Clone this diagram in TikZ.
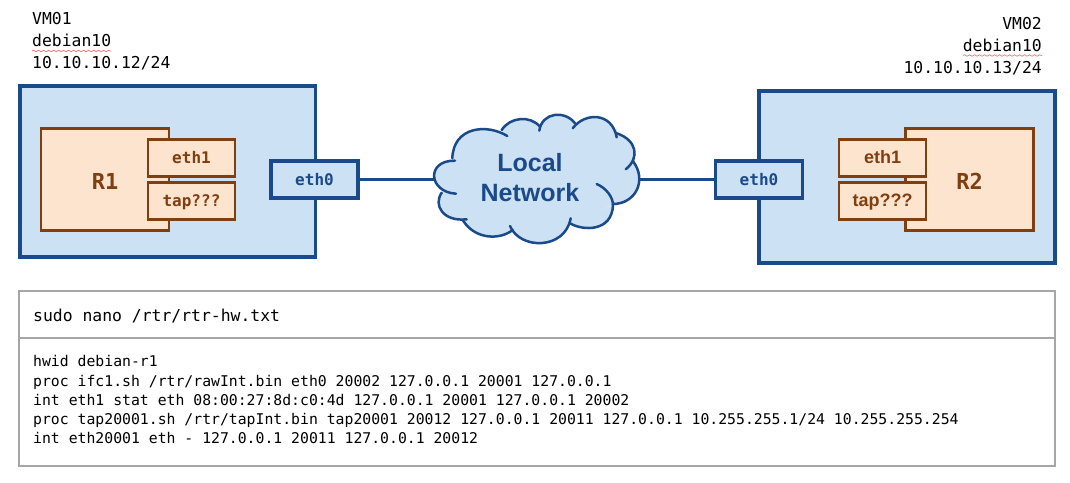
\documentclass[tikz,border=0pt]{standalone}
\usepackage{fontspec}
\setmonofont{DejaVu Sans Mono}
\setsansfont{Liberation Sans}
\usetikzlibrary{decorations.pathmorphing}

\definecolor{vmblue}{HTML}{1A4A8A}
\definecolor{vmfill}{HTML}{CCE1F3}
\definecolor{rtrbrown}{HTML}{7F3F10}
\definecolor{rtrfill}{HTML}{FDE4CF}
\definecolor{boxgrey}{HTML}{A6A6A6}

\tikzstyle{vmbox}=[rectangle,draw=vmblue,fill=vmfill,line width=3.8pt,outer sep=0pt,inner sep=0pt]
\tikzstyle{ifcbox}=[vmbox,minimum width=87pt,minimum height=37pt,text=vmblue,text height=14pt,text depth=2pt,font=\ttfamily\bfseries\fontsize{16}{19}\selectfont]
\tikzstyle{rtrbox}=[rectangle,draw=rtrbrown,fill=rtrfill,line width=2.5pt,outer sep=0pt,inner sep=0pt,text=rtrbrown,minimum width=128pt,minimum height=102pt,text height=20pt,text depth=0pt,font=\ttfamily\bfseries\fontsize{22}{26}\selectfont]
\tikzstyle{portbox}=[rtrbox,minimum width=87pt,minimum height=37pt,text height=14pt,text depth=3pt,font=\ttfamily\bfseries\fontsize{16}{19}\selectfont]
\tikzstyle{portsans}=[portbox,font=\sffamily\bfseries\fontsize{18}{21}\selectfont]
\tikzstyle{vmtext}=[inner sep=0pt,font=\ttfamily\fontsize{16.4}{21.6}\selectfont]
\tikzstyle{squiggle}=[draw=red!70!white,line width=0.5pt,decorate,decoration={snake,amplitude=0.8pt,segment length=5pt}]
\tikzstyle{listbox}=[rectangle,draw=boxgrey,line width=1.3pt,outer sep=0pt,inner sep=0pt,minimum width=1036pt]
\tikzstyle{link}=[draw=vmblue,line width=3pt]
\tikzstyle{lobe}=[draw=vmblue,line width=2.5pt,line cap=round]

\def\cloudarcs{
	{(507.3,136) .. controls (486.7,123.3) and (453.3,126.7) .. (452.3,158.3)},
	{(455,160.7) .. controls (426,160) and (428,192) .. (456,193.7)},
	{(441.7,192.7) .. controls (433,205) and (443,222) .. (466.7,219.3)},
	{(462.7,220) .. controls (475,240) and (500,240) .. (512.7,230)},
	{(510,226) .. controls (520,250) and (565,250) .. (570.7,218.3)},
	{(570,223.3) .. controls (583,231) and (612,232) .. (613,205)},
	{(613,205) .. controls (613,197) and (606,188) .. (596.7,184)},
	{(612.7,204) .. controls (636,204) and (647,180) .. (633.3,161.7)},
	{(625.7,169.3) .. controls (640,158) and (637,140) .. (616.7,133.3)},
	{(616.7,137.3) .. controls (612,112) and (585,112) .. (572.7,128.3)},
	{(575,123.3) .. controls (565,110) and (542,112) .. (539.3,130.7)},
	{(540,126.7) .. controls (530,115) and (510,117) .. (501.7,130)}}

\begin{document}
\begin{tikzpicture}[x=1pt,y=-1pt]
	\useasboundingbox (0,0) rectangle (1070,482);
	
	\node[vmbox,minimum width=295.5pt,minimum height=171pt] (vm1) at (167.75,171.8) {};
	\node[vmbox,minimum width=296pt,minimum height=172pt] (vm2) at (907,177) {};
	
	\node[rtrbox] (r1) at (105,179.5) {R1};
	\node[portbox] (r1eth1) at (191.5,158) {eth1};
	\node[portbox] (r1tap) at (191.5,201) {tap???};
	\node[ifcbox] (r1eth0) at (314.5,179.5) {eth0};
	
	\node[rtrbox] (r2) at (969.5,179.5) {R2};
	\node[portsans] (r2eth1) at (882.5,158) {eth1};
	\node[portsans] (r2tap) at (882.5,201) {tap???};
	\node[ifcbox] (r2eth0) at (759,179.5) {eth0};
	
	\node[minimum width=205pt,minimum height=126pt,inner sep=0pt,outer sep=0pt] (cloud) at (537.5,179.5) {};
	
	\draw[link] (r1eth0)--(cloud.west);
	\draw[link] (cloud.east)--(r2eth0);
	
	\filldraw[fill=vmfill,draw=vmfill,line width=1.5pt] (456,193.7)--(455,160.7)--(452.3,158.3)--(507.3,136)--(501.7,130)--(540,126.7)--(539.3,130.7)--(575,123.3)--(572.7,128.3)--(616.7,137.3)--(616.7,133.3)--(625.7,169.3)--(633.3,161.7)--(612.7,204)--(570,223.3)--(570.7,218.3)--(510,226)--(512.7,230)--(462.7,220)--(466.7,219.3)--(441.7,192.7)--cycle;
	\foreach \arc in \cloudarcs {
		\fill[vmfill] \arc -- cycle;
	}
	\foreach \arc in \cloudarcs {
		\draw[lobe] \arc;
	}
	
	\node[align=center,inner sep=0pt,text=vmblue,font=\sffamily\bfseries\fontsize{25}{30}\selectfont] (cloudtext) at (530,178) {Local\\Network};
	
	\node[vmtext,align=left,anchor=north west] (vm1text) at (32,12.5) {VM01\\debian10\\10.10.10.12/24};
	\node[vmtext,align=right,anchor=north east] (vm2text) at (1042,17.5) {VM02\\debian10\\10.10.10.13/24};
	
	\path[squiggle] (32,51)--(111,51);
	\path[squiggle] (963,55.5)--(1042,55.5);
	
	\node[listbox,minimum height=47pt] (cmdbox) at (537,314.5) {};
	\node[listbox,minimum height=128pt,anchor=north] (listing) at (cmdbox.south) {};
	\node[anchor=base west,inner sep=0pt,font=\ttfamily\fontsize{16.4}{20}\selectfont] (cmdtext) at (33,321) {sudo nano /rtr/rtr-hw.txt};
	\node[anchor=north west,align=left,inner sep=0pt,font=\ttfamily\fontsize{14.78}{19.1}\selectfont] (listtext) at (33,355.5) {hwid debian-r1\\
		proc ifc1.sh /rtr/rawInt.bin eth0 20002 127.0.0.1 20001 127.0.0.1\\
		int eth1 stat eth 08:00:27:8d:c0:4d 127.0.0.1 20001 127.0.0.1 20002\\
		proc tap20001.sh /rtr/tapInt.bin tap20001 20012 127.0.0.1 20011 127.0.0.1 10.255.255.1/24 10.255.255.254\\
		int eth20001 eth - 127.0.0.1 20011 127.0.0.1 20012};
\end{tikzpicture}
\end{document}
